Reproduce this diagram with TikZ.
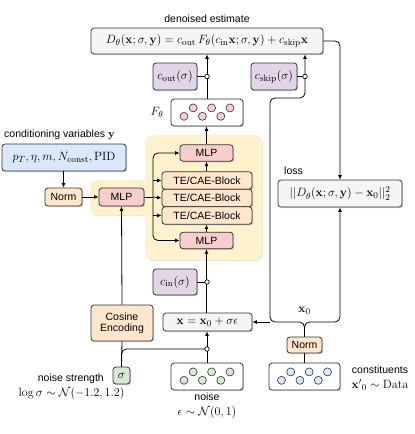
\documentclass[tikz,border=0pt]{standalone}
\usepackage[no-math]{fontspec}
\setmainfont{Liberation Sans}
\usepackage{amsmath}
\usetikzlibrary{arrows.meta,shadows,calc}
\definecolor{cgray}{HTML}{F5F5F5}
\definecolor{cpurple}{HTML}{E1D5E7}
\definecolor{cpink}{HTML}{F8CECC}
\definecolor{corange}{HTML}{FFE6CC}
\definecolor{cblue}{HTML}{DAE8FC}
\definecolor{cgreen}{HTML}{D5E8D4}
\definecolor{cyellow}{HTML}{FFF2CC}
\definecolor{cstroke}{HTML}{333333}
\tikzset{
  box/.style={draw=cstroke, line width=0.8pt, rounded corners=3pt, inner sep=0pt,
    drop shadow={shadow xshift=1.2pt, shadow yshift=-1.2pt, fill=black!35, opacity=0.5}},
  arr/.style={-{Latex[length=4.5pt,width=4pt]}, line width=0.8pt, draw=black},
  ln/.style={line width=0.8pt, draw=black},
  junc/.style={circle, draw=black, fill=white, line width=0.7pt, inner sep=0pt, minimum size=4.5pt},
  lbl/.style={inner sep=0pt},
  mth/.style={font=\fontsize{12.5}{14}\selectfont},
  dot/.style={draw=cstroke, line width=0.6pt},
}
\newcommand{\dotrow}[3]{%
  \foreach \i in {0,...,5}{%
    \pgfmathsetmacro\dx{#1-23+9.2*\i}%
    \pgfmathsetmacro\dy{ifthenelse(mod(\i,2)==0,#2+3.8,#2-4.6)}%
    \draw[dot, fill=#3] (\dx,\dy) circle (4pt);
  }%
}
\begin{document}
\begin{tikzpicture}[x=1pt,y=-1pt, font=\fontsize{10.5}{12}\selectfont]
\useasboundingbox (0,0) rectangle (415,434);
% yellow background
\fill[cyellow, rounded corners=8pt, drop shadow={shadow xshift=1.2pt, shadow yshift=-1.2pt, fill=black!25, opacity=0.4}] (90,180) rectangle (170,215);
\fill[cyellow, rounded corners=8pt, drop shadow={shadow xshift=1.2pt, shadow yshift=-1.2pt, fill=black!25, opacity=0.4}] (145,135) rectangle (262,260);
\fill[cyellow] (140,180) rectangle (150,215);

% nodes
\node[lbl] (dlabel) at (207,19) {denoised estimate};
\node[box, mth, fill=cgray, minimum width=232pt, minimum height=26pt] (D) at (207,41)
  {$D_\theta(\mathbf{x};\sigma,\mathbf{y}) = c_\mathrm{out}\, F_\theta(c_\mathrm{in}\mathbf{x};\sigma,\mathbf{y}) + c_\mathrm{skip}\mathbf{x}$};
\node[box, mth, fill=cpurple, minimum width=44pt, minimum height=27pt] (cout) at (175,76.5) {$c_\mathrm{out}(\sigma)$};
\node[box, mth, fill=cpurple, minimum width=46pt, minimum height=27pt] (cskip) at (274,76.5) {$c_\mathrm{skip}(\sigma)$};
\node[box, fill=white, minimum width=72pt, minimum height=27pt] (F) at (207,112.5) {};
\dotrow{207}{112.5}{cpink}
\node[lbl, mth] (Flabel) at (157,112) {$F_\theta$};

\node[lbl, anchor=west] (condlabel) at (4,135) {conditioning variables $\mathbf{y}$};
\node[box, mth, fill=cblue, minimum width=124pt, minimum height=27pt] (cond) at (64,157.5) {$p_T, \eta, m, N_\mathrm{const}, \mathrm{PID}$};
\node[box, fill=corange, minimum width=37pt, minimum height=18pt] (normy) at (63.5,197) {Norm};
\node[box, fill=cpink, minimum width=45pt, minimum height=18pt] (mlp1) at (121.5,197) {MLP};

\node[box, fill=cpink, minimum width=53pt, minimum height=16.5pt] (mlptop) at (206.5,153) {MLP};
\node[box, fill=corange, minimum width=90pt, minimum height=17.5pt] (te1) at (207,180.5) {TE/CAE-Block};
\node[box, fill=corange, minimum width=90pt, minimum height=17.5pt] (te2) at (207,198) {TE/CAE-Block};
\node[box, fill=corange, minimum width=90pt, minimum height=17.5pt] (te3) at (207,215.5) {TE/CAE-Block};
\node[box, fill=cpink, minimum width=53pt, minimum height=16.5pt] (mlpbot) at (206.5,240.5) {MLP};

\node[box, mth, fill=cpurple, minimum width=44pt, minimum height=26pt] (cin) at (175,282) {$c_\mathrm{in}(\sigma)$};
\node[box, mth, fill=cgray, minimum width=89pt, minimum height=18pt] (xbox) at (207.5,322) {$\mathbf{x} = \mathbf{x}_0 + \sigma\epsilon$};
\node[box, fill=corange, minimum width=62pt, minimum height=36pt, align=center] (cos) at (122,323) {Cosine\\[-1pt]Encoding};
\node[box, mth, fill=cgreen, minimum width=17pt, minimum height=17pt] (sigma) at (121.5,375.5) {$\sigma$};
\node[lbl, anchor=east] (nslabel) at (104,378.5) {noise strength};
\node[lbl, mth] (loglabel) at (71.5,393.5) {$\log\sigma \sim \mathcal{N}(-1.2, 1.2)$};

\node[box, fill=white, minimum width=72pt, minimum height=27pt] (noise) at (207,376.5) {};
\dotrow{207}{376.5}{cgreen}
\node[lbl] (noiselabel) at (207,397) {noise};
\node[lbl, mth] (epslabel) at (207,412) {$\epsilon \sim \mathcal{N}(0,1)$};

\node[box, fill=corange, minimum width=35pt, minimum height=16pt] (normx) at (304.5,345) {Norm};
\node[box, fill=white, minimum width=71pt, minimum height=27pt] (const) at (304.5,376.5) {};
\dotrow{304.5}{376.5}{cblue}
\node[lbl] (constlabel) at (380,370) {constituents};
\node[lbl, mth] (datalabel) at (380,385) {${\mathbf{x}'}_0 \sim \mathrm{Data}$};

\node[lbl, anchor=west] (losslabel) at (284,171) {loss};
\node[box, mth, fill=cgray, minimum width=124pt, minimum height=27pt] (loss) at (340,193.5) {$||D_\theta(\mathbf{x};\sigma,\mathbf{y}) - \mathbf{x}_0||_2^2$};
\node[lbl, mth] (x0label) at (304.5,311) {$\mathbf{x}_0$};

% coordinates
\coordinate (jout) at (207,76.5);
\coordinate (jskip) at (305,76.5);
\coordinate (jin) at (207,282);
\coordinate (jn) at (207,349);
\coordinate (brace) at (304.5,322);
\coordinate (bl) at (270,322);
\coordinate (br) at (340,322);
\coordinate (sk1) at (270,98);
\coordinate (sk2) at (305,98);
\coordinate (rt) at (340,41);
\coordinate (sp) at (153,197);

% connectors
\draw[arr] (F.north) -- (F.north |- D.south);
\draw[ln] (cout.east) -- (jout);
\draw[ln] (cskip.east) -- (jskip);
\draw[arr] (mlptop.north) -- (mlptop.north |- F.south);
\draw[arr] (te1.north -| mlptop.south) -- (mlptop.south);
\draw[arr] (mlpbot.north) -- (mlpbot.north |- te3.south);
\draw[arr] (xbox.north -| mlpbot.south) -- (mlpbot.south);
\draw[ln] (cin.east) -- (jin);
\draw[arr] (noise.north) -- (noise.north |- xbox.south);
\draw[ln, rounded corners=5pt] (jn) -| (sigma.north);
\draw[ln] (cos.south) -- (sigma.north);
\draw[arr] (cos.north) -- (mlp1.south);
\draw[arr] (cond.south -| normy.north) -- (normy.north);
\draw[arr] (normy.east) -- (mlp1.west);
\draw[ln] (mlp1.east) -- (sp);
\draw[arr] (sp) -- (te2.west);
\draw[arr] (sp |- te1.west) -- (te1.west);
\draw[arr] (sp |- te3.west) -- (te3.west);
\draw[arr, rounded corners=5pt] (sp) -- (sp |- mlptop.west) -- (mlptop.west);
\draw[arr, rounded corners=5pt] (sp) -- (sp |- mlpbot.west) -- (mlpbot.west);
\draw[arr, rounded corners=5pt] (D.east) -- (rt) -- (loss.north);
\draw[arr, rounded corners=5pt] (normx.north) -- (brace) -- (bl) -- (sk1) -- (sk2) -- (sk2 |- D.south);
\draw[arr, rounded corners=5pt] (normx.north) -- (brace) -- (br) -- (loss.south);
\draw[arr] (bl) -- (xbox.east);
\draw[ln] (normx.south) -- (const.north);

% junction markers
\node[junc] (m1) at (jout) {};
\node[junc] (m2) at (jskip) {};
\node[junc] (m3) at (jin) {};
\node[junc] (m4) at (jn) {};
\end{tikzpicture}
\end{document}
